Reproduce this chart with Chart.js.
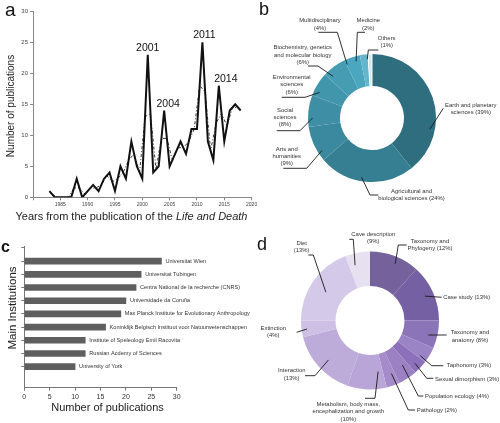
<!DOCTYPE html>
<html>
<head>
<meta charset="utf-8">
<script src="https://cdn.jsdelivr.net/npm/chart.js@4.4.0/dist/chart.umd.min.js"></script>
<style>
  body { margin: 0; background: #fff; }
  #page { position: relative; width: 500px; height: 423px; overflow: hidden; }
  #page canvas { position: absolute; }
</style>
</head>
<body>
<div id="page">
  <canvas id="chartB" width="250" height="210" style="left:250px;top:0"></canvas>
  <canvas id="chartA" width="262" height="232" style="left:0;top:0"></canvas>
  <canvas id="chartC" width="250" height="198" style="left:0;top:225px"></canvas>
  <canvas id="chartD" width="250" height="213" style="left:250px;top:210px"></canvas>
</div>
<script>
// panel a: publications per year
const years = [1983, 1984, 1985, 1986, 1987, 1988, 1989, 1990, 1991, 1992, 1993, 1994,
    1995, 1996, 1997, 1998, 1999, 2000, 2001, 2002, 2003, 2004, 2005, 2006,
    2007, 2008, 2009, 2010, 2011, 2012, 2013, 2014, 2015, 2016, 2017, 2018];
const publications = [1, 0, 0, 0, 0, 3, 0, 1, 2, 1, 3, 4,
    1, 5, 3, 9, 5, 3, 23, 4, 5, 14, 5, 7,
    9, 7, 11, 11, 25, 9, 6, 18, 9, 14, 15, 14];
// dash-dot trend, one value between each pair of years
const movingAverage = [0.5, 0, 0, 0, 1.5, 1.5, 0.5, 1.5, 1.5, 2, 3.5, 2.5,
    3, 4, 6, 7, 4, 13, 13.5, 4.5, 9.5, 9.5, 6, 8,
    8, 9, 11, 18, 17, 7.5, 12, 13.5, 11.5, 14.5, 14.5];
const peakYears = [2001, 2004, 2011, 2014];

// panel b: subject areas
const subjectAreas = ['Earth and planetary sciences', 'Agricultural and biological sciences',
    'Arts and humanities', 'Social sciences', 'Environmental sciences',
    'Biochemistry, genetics and molecular biology', 'Multidisciplinary', 'Medicine', 'Others'];
const subjectShares = [39, 24, 9, 8, 6, 6, 4, 2, 1];

// panel c: main institutions
const institutions = ['Universitat Wien', 'Universitat Tubingen',
    'Centra National de la recherche (CNRS)', 'Universidade da Coruña',
    'Max Planck Institute for Evolutionary Anthropology',
    'Koninklijk Belgisch Instituut voor Natuurwetenschappen',
    'Institute of Speleology Emil Racovita', 'Russian Acdemy of Sciences', 'University of York'];
const institutionCounts = [27, 23, 22, 20, 19, 16, 12, 12, 10];

// panel d: research topics (slice sizes as drawn in the figure)
const topics = ['Taxonomy and Phylogeny', 'Case study', 'Taxonomy and anatomy', 'Taphonomy',
    'Sexual dimorphism', 'Population ecology', 'Pathology',
    'Metabolism, body mass, encephalization and growth', 'Interaction', 'Extinction',
    'Diet', 'Cave description'];
const topicSlices = [11.7, 13.3, 6.5, 3.8, 3.3, 4.4, 3.1, 9.2, 15.8, 3.9, 19.2, 5.8];


const FONT = '"Liberation Sans", Arial, Helvetica, sans-serif';
Chart.defaults.font.family = FONT;
Chart.defaults.animation = false;
Chart.defaults.plugins.legend.display = false;
Chart.defaults.plugins.tooltip.enabled = false;

const tealColors = ['#2e6e7f', '#367f92', '#3b899e', '#3e8fa5', '#4296ab',
    '#469db3', '#4aa7bf', '#63b6cc', '#d2e9f0'];
const purpleColors = ['#75619c', '#7460a3', '#8c74b8', '#9a84c6', '#8d70ba', '#9b80c3',
    '#a68bca', '#b9a5d8', '#bdabda', '#cdc0e4', '#d4c9e8', '#e7e0f1'];

// leader lines + labels for the doughnuts
function calloutPlugin(callouts, letter) {
    return {
        id: 'callouts',
        afterDraw(chart) {
            const arc = chart.getDatasetMeta(0).data[0];
            const ctx = chart.ctx;
            ctx.save();
            ctx.strokeStyle = '#1a1a1a';
            ctx.lineWidth = 0.9;
            ctx.fillStyle = '#333';
            ctx.font = '5.9px ' + FONT;
            ctx.textBaseline = 'middle';
            callouts.forEach(function(c) {
                const a = c.angle * Math.PI / 180;
                const r = arc.outerRadius * c.rf;
                ctx.beginPath();
                c.path.forEach(function(p, i) {
                    if (i == 0) ctx.moveTo(p[0], p[1]); else ctx.lineTo(p[0], p[1]);
                });
                ctx.lineTo(arc.x + r * Math.sin(a), arc.y - r * Math.cos(a));
                ctx.stroke();
                ctx.textAlign = c.align || 'center';
                c.lines.forEach(function(t, i) {
                    ctx.fillText(t, c.x, c.y + i * 7.3);
                });
            });
            ctx.fillStyle = '#111';
            ctx.textAlign = 'left';
            ctx.textBaseline = 'alphabetic';
            ctx.font = letter.font + ' ' + FONT;
            ctx.fillText(letter.text, letter.x, letter.y);
            ctx.restore();
        }
    };
}

// Panel a
new Chart(document.getElementById('chartA'), {
    type: 'line',
    data: {
        datasets: [
            {
                data: years.map((yr, i) => ({ x: yr, y: publications[i] })),
                borderColor: '#111',
                borderWidth: 2,
                pointRadius: 0,
                tension: 0
            },
            {
                data: movingAverage.map((v, i) => ({ x: years[i] + 0.5, y: v })),
                borderColor: '#333',
                borderWidth: 1,
                borderDash: [3, 2, 1, 2],
                pointRadius: 0,
                tension: 0
            }
        ]
    },
    options: {
        responsive: false,
        layout: { padding: { top: 11.3, right: 10.4, left: 0, bottom: 0 } },
        scales: {
            x: {
                type: 'linear', min: 1980, max: 2020,
                ticks: { stepSize: 5, color: '#444', font: { size: 5 }, maxRotation: 0, padding: 1,
                    callback: v => v == 1980 ? '' : String(v) },
                grid: { drawOnChartArea: false, tickLength: 3, color: '#888' },
                border: { color: '#888' },
                afterFit(s) { s.height = 34.7; }
            },
            y: {
                min: 0, max: 30,
                ticks: { stepSize: 5, color: '#444', font: { size: 6 }, padding: 2 },
                grid: { drawOnChartArea: false, tickLength: 3, color: '#888' },
                border: { color: '#888' },
                afterFit(s) { s.width = 33; }
            }
        }
    },
    plugins: [{
        id: 'panelA',
        afterDraw(chart) {
            const ctx = chart.ctx;
            const x = chart.scales.x, y = chart.scales.y;
            ctx.save();
            ctx.fillStyle = '#111';
            ctx.font = '10.5px ' + FONT;
            ctx.textAlign = 'center';
            const nudge = [0, 4, 2, 7];
            peakYears.forEach(function(yr, i) {
                const v = publications[years.indexOf(yr)];
                ctx.fillText(String(yr), x.getPixelForValue(yr) + nudge[i], y.getPixelForValue(v) - 4);
            });
            // y title
            ctx.fillStyle = '#222';
            ctx.font = '10px ' + FONT;
            ctx.save();
            ctx.translate(11, 106);
            ctx.rotate(-Math.PI / 2);
            ctx.textBaseline = 'middle';
            ctx.fillText('Number of publications', 0, 0);
            ctx.restore();
            // x title, with the book title in italics
            const plain = 'Years from the publication of the ';
            const book = 'Life and Death';
            ctx.font = '11px ' + FONT;
            const w1 = ctx.measureText(plain).width;
            ctx.font = 'italic 11px ' + FONT;
            const w2 = ctx.measureText(book).width;
            let left = 131.5 - (w1 + w2) / 2;
            ctx.textAlign = 'left';
            ctx.textBaseline = 'middle';
            ctx.font = '11px ' + FONT;
            ctx.fillText(plain, left, 217);
            ctx.font = 'italic 11px ' + FONT;
            ctx.fillText(book, left + w1, 217);
            // panel letter
            ctx.fillStyle = '#111';
            ctx.textBaseline = 'alphabetic';
            ctx.font = '19px ' + FONT;
            ctx.fillText('a', 5, 15.5);
            ctx.restore();
        }
    }]
});

// Panel b
const subjectCallouts = [
    { lines: ['Earth and planetary', 'sciences (39%)'], x: 220.8, y: 105, path: [[193.3, 108.3]], angle: 101, rf: 0.92 },
    { lines: ['Agricultural and', 'biological sciences (24%)'], x: 161.5, y: 191, path: [[128.3, 195], [120, 195]], angle: 190, rf: 0.94 },
    { lines: ['Arts and', 'humanities', '(9%)'], x: 36.7, y: 149, path: [[33.3, 168.3], [56.7, 168.3]], angle: -123, rf: 0.93 },
    { lines: ['Social', 'sciences', '(8%)'], x: 35, y: 110, path: [[26.7, 130.7], [50, 130.7]], angle: -90, rf: 0.93 },
    { lines: ['Environmental', 'sciences', '(6%)'], x: 41.7, y: 77.3, path: [[31.7, 97.3], [55, 97.3]], angle: -64, rf: 0.91 },
    { lines: ['Biochemistry, genetics', 'and molecular biology', '(6%)'], x: 52.7, y: 47.7, path: [[58, 66], [68, 66]], angle: -43, rf: 0.89 },
    { lines: ['Multidisciplinary', '(4%)'], x: 70, y: 20.7, path: [[68.3, 32.3], [87.3, 32.3]], angle: -25, rf: 0.92 },
    { lines: ['Medicine', '(2%)'], x: 118.3, y: 20.7, path: [[115, 32.3], [107.3, 32.3]], angle: -15.7, rf: 0.92 },
    { lines: ['Others', '(1%)'], x: 136.7, y: 38.3, path: [[128.3, 50], [118.3, 50]], angle: -4.6, rf: 0.92 }
];

new Chart(document.getElementById('chartB'), {
    type: 'doughnut',
    data: {
        labels: subjectAreas,
        datasets: [{
            data: subjectShares,
            backgroundColor: tealColors,
            borderColor: '#fff',
            borderWidth: [0, 0, 0, 0, 0, 0, 0, 0, 1]
        }]
    },
    options: {
        responsive: false,
        cutout: '50%',
        layout: { padding: { left: 57.5, right: 63.5, top: 53.5, bottom: 27.5 } }
    },
    plugins: [calloutPlugin(subjectCallouts, { text: 'b', x: 9, y: 15, font: '18px' })]
});

// Panel c
new Chart(document.getElementById('chartC'), {
    type: 'bar',
    data: {
        datasets: [{
            data: institutionCounts.map((v, i) => ({ x: v, y: i })),
            backgroundColor: '#5f5f5f',
            barThickness: 6
        }]
    },
    options: {
        responsive: false,
        indexAxis: 'y',
        layout: { padding: { top: 21.7, right: 73.3, left: 0, bottom: 0 } },
        scales: {
            x: {
                type: 'linear', min: 0, max: 30,
                ticks: { stepSize: 5, color: '#333', font: { size: 7 }, padding: 2 },
                grid: { drawOnChartArea: false, tickLength: 3, color: '#777' },
                border: { color: '#777' },
                afterFit(s) { s.height = 35.3; }
            },
            y: {
                type: 'linear', reverse: true, min: -0.5, max: 9,
                afterBuildTicks(s) { s.ticks = institutions.map((_, i) => ({ value: i - 0.5 })); },
                ticks: { display: false },
                grid: { drawOnChartArea: false, tickLength: 3, color: '#777' },
                border: { color: '#777' },
                afterFit(s) { s.width = 24.3; }
            }
        }
    },
    plugins: [{
        id: 'panelC',
        afterDraw(chart) {
            const ctx = chart.ctx;
            ctx.save();
            ctx.fillStyle = '#333';
            ctx.font = '5.6px ' + FONT;
            ctx.textBaseline = 'middle';
            chart.getDatasetMeta(0).data.forEach(function(bar, i) {
                ctx.fillText(institutions[i], bar.x + 4, bar.y);
            });
            ctx.fillStyle = '#222';
            ctx.font = '11px ' + FONT;
            ctx.textAlign = 'center';
            ctx.fillText('Number of publications', 107.5, 183);
            ctx.save();
            ctx.translate(13.3, 83);
            ctx.rotate(-Math.PI / 2);
            ctx.font = '11.5px ' + FONT;
            ctx.fillText('Main Institutions', 0, 0);
            ctx.restore();
            ctx.fillStyle = '#111';
            ctx.textAlign = 'left';
            ctx.textBaseline = 'alphabetic';
            ctx.font = 'bold 16px ' + FONT;
            ctx.fillText('c', 1, 27);
            ctx.restore();
        }
    }]
});

// Panel d
const topicCallouts = [
    { lines: ['Taxonomy and', 'Phylogeny (12%)'], x: 180, y: 31, path: [[156.7, 35], [148.3, 35]], angle: 24, rf: 0.9 },
    { lines: ['Case study (13%)'], x: 193.3, y: 87.3, align: 'left', path: [[191.7, 87.3]], angle: 66, rf: 0.87 },
    { lines: ['Taxonomy and', 'anatomy (8%)'], x: 220, y: 122.7, path: [[196.7, 125]], angle: 104, rf: 0.87 },
    { lines: ['Taphonomy (3%)'], x: 196.7, y: 155.7, align: 'left', path: [[193.3, 155.7], [181.7, 155.7]], angle: 125, rf: 0.89 },
    { lines: ['Sexual dimorphism (3%)'], x: 185, y: 169, align: 'left', path: [[183.3, 168.3], [176.7, 168.3]], angle: 133.6, rf: 0.9 },
    { lines: ['Population ecology (4%)'], x: 175, y: 186, align: 'left', path: [[173.3, 186], [168.3, 186]], angle: 144, rf: 0.8 },
    { lines: ['Pathology (2%)'], x: 166.7, y: 200.5, align: 'left', path: [[165, 200], [158.3, 200]], angle: 158, rf: 0.83 },
    { lines: ['Metabolism, body mass,', 'encephalization and growth', '(10%)'], x: 98.3, y: 194.3, path: [[115, 188.3], [125, 188.3]], angle: 171, rf: 0.75 },
    { lines: ['Interaction', '(13%)'], x: 41.7, y: 160.7, path: [[55, 165.7], [65, 165.7]], angle: -133.5, rf: 0.83 },
    { lines: ['Extinction', '(4%)'], x: 23.3, y: 118.3, path: [[46.7, 122.3]], angle: -97.7, rf: 0.92 },
    { lines: ['Diet', '(13%)'], x: 51.7, y: 33.3, path: [[58.3, 45], [63.3, 45]], angle: -57.3, rf: 0.76 },
    { lines: ['Cave description', '(9%)'], x: 123.3, y: 24, path: [[99.3, 29.3], [103.3, 29.3]], angle: -15.1, rf: 0.83 }
];

new Chart(document.getElementById('chartD'), {
    type: 'doughnut',
    data: {
        labels: topics,
        datasets: [{
            data: topicSlices,
            backgroundColor: purpleColors,
            borderWidth: 0
        }]
    },
    options: {
        responsive: false,
        cutout: '50%',
        layout: { padding: { left: 51, right: 61, top: 41.5, bottom: 33.5 } }
    },
    plugins: [calloutPlugin(topicCallouts, { text: 'd', x: 7, y: 40, font: '18px' })]
});
</script>
</body>
</html>
